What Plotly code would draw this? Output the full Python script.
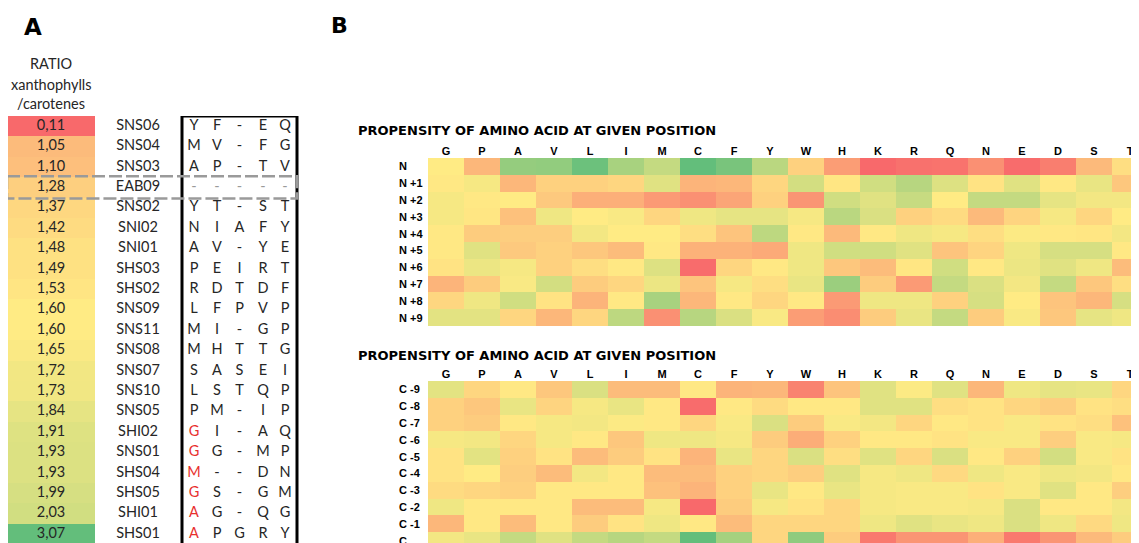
import plotly.graph_objects as go

# ---------------- data ----------------
ratio = [0.11, 1.05, 1.10, 1.28, 1.37, 1.42, 1.48, 1.49, 1.53, 1.60, 1.60,
         1.65, 1.72, 1.73, 1.84, 1.91, 1.93, 1.93, 1.99, 2.03, 3.07]
strains = ["SNS06", "SNS04", "SNS03", "EAB09", "SNS02", "SNI02", "SNI01", "SHS03",
           "SHS02", "SNS09", "SNS11", "SNS08", "SNS07", "SNS10", "SNS05", "SHI02",
           "SNS01", "SHS04", "SHS05", "SHI01", "SHS01"]
seqs = ["YF-EQ", "MV-FG", "AP-TV", "-----", "YT-ST", "NIAFY", "AV-YE", "PEIRT",
        "RDTDF", "LFPVP", "MI-GP", "MHTTG", "SASEI", "LSTQP", "PM-IP", "GI-AQ",
        "GG-MP", "M--DN", "GS-GM", "AG-QG", "APGRY"]
red_first = ["SHI02", "SNS01", "SHS04", "SHS05", "SHI01", "SHS01"]
highlight = "EAB09"

amino = ["G", "P", "A", "V", "L", "I", "M", "C", "F", "Y",
         "W", "H", "K", "R", "Q", "N", "E", "D", "S", "T"]
n_rows = ["N", "N +1", "N +2", "N +3", "N +4", "N +5", "N +6", "N +7", "N +8", "N +9"]
c_rows = ["C -9", "C -8", "C -7", "C -6", "C -5", "C -4", "C -3", "C -2", "C -1", "C"]

# propensity (0 = low/red, 0.5 = neutral/yellow, 1 = high/green)
n_vals = [
    [0.50, 0.30, 0.84, 0.85, 0.97, 0.78, 0.69, 1.00, 0.93, 0.72, 0.40, 0.20, 0.00, 0.03, 0.04, 0.15, 0.01, 0.08, 0.31, 0.45],
    [0.49, 0.53, 0.30, 0.40, 0.40, 0.42, 0.60, 0.29, 0.30, 0.42, 0.64, 0.48, 0.65, 0.73, 0.61, 0.47, 0.60, 0.49, 0.57, 0.36],
    [0.53, 0.49, 0.50, 0.37, 0.27, 0.27, 0.19, 0.15, 0.23, 0.40, 0.17, 0.65, 0.60, 0.68, 0.50, 0.69, 0.69, 0.58, 0.54, 0.54],
    [0.53, 0.48, 0.34, 0.55, 0.50, 0.52, 0.42, 0.55, 0.58, 0.58, 0.53, 0.72, 0.62, 0.40, 0.44, 0.31, 0.41, 0.53, 0.42, 0.50],
    [0.49, 0.38, 0.39, 0.39, 0.54, 0.50, 0.50, 0.45, 0.35, 0.71, 0.49, 0.31, 0.49, 0.55, 0.53, 0.45, 0.51, 0.49, 0.48, 0.54],
    [0.49, 0.60, 0.37, 0.40, 0.36, 0.32, 0.49, 0.28, 0.28, 0.25, 0.55, 0.65, 0.65, 0.60, 0.35, 0.41, 0.55, 0.63, 0.63, 0.49],
    [0.47, 0.56, 0.53, 0.40, 0.45, 0.49, 0.61, 0.01, 0.42, 0.49, 0.55, 0.36, 0.32, 0.48, 0.65, 0.49, 0.56, 0.60, 0.55, 0.32],
    [0.29, 0.38, 0.52, 0.64, 0.38, 0.42, 0.56, 0.35, 0.53, 0.45, 0.57, 0.82, 0.38, 0.19, 0.69, 0.62, 0.54, 0.69, 0.36, 0.45],
    [0.42, 0.55, 0.65, 0.47, 0.29, 0.49, 0.78, 0.30, 0.49, 0.42, 0.49, 0.19, 0.55, 0.55, 0.40, 0.63, 0.50, 0.35, 0.30, 0.63],
    [0.59, 0.59, 0.42, 0.30, 0.42, 0.71, 0.15, 0.73, 0.62, 0.52, 0.20, 0.14, 0.38, 0.57, 0.69, 0.38, 0.52, 0.36, 0.58, 0.55],
]
c_vals = [
    [0.59, 0.42, 0.49, 0.36, 0.62, 0.32, 0.32, 0.49, 0.29, 0.30, 0.10, 0.35, 0.60, 0.51, 0.60, 0.30, 0.55, 0.58, 0.57, 0.42],
    [0.40, 0.36, 0.57, 0.41, 0.53, 0.57, 0.49, 0.01, 0.49, 0.44, 0.49, 0.49, 0.60, 0.60, 0.45, 0.47, 0.42, 0.39, 0.47, 0.45],
    [0.40, 0.38, 0.49, 0.53, 0.54, 0.51, 0.49, 0.42, 0.52, 0.62, 0.38, 0.52, 0.54, 0.42, 0.49, 0.47, 0.52, 0.47, 0.45, 0.34],
    [0.53, 0.54, 0.42, 0.53, 0.49, 0.36, 0.55, 0.55, 0.53, 0.38, 0.26, 0.40, 0.49, 0.49, 0.47, 0.52, 0.52, 0.39, 0.52, 0.53],
    [0.47, 0.59, 0.40, 0.47, 0.32, 0.38, 0.47, 0.29, 0.57, 0.42, 0.62, 0.45, 0.60, 0.42, 0.62, 0.49, 0.40, 0.64, 0.52, 0.47],
    [0.47, 0.50, 0.39, 0.32, 0.54, 0.49, 0.32, 0.32, 0.40, 0.42, 0.39, 0.60, 0.53, 0.55, 0.43, 0.55, 0.52, 0.55, 0.54, 0.49],
    [0.44, 0.42, 0.40, 0.49, 0.49, 0.49, 0.34, 0.29, 0.40, 0.57, 0.49, 0.57, 0.53, 0.52, 0.52, 0.47, 0.52, 0.60, 0.49, 0.39],
    [0.55, 0.49, 0.49, 0.49, 0.32, 0.32, 0.53, 0.00, 0.38, 0.53, 0.47, 0.42, 0.53, 0.52, 0.52, 0.53, 0.62, 0.49, 0.49, 0.54],
    [0.30, 0.49, 0.32, 0.49, 0.38, 0.47, 0.55, 0.49, 0.32, 0.42, 0.42, 0.42, 0.55, 0.60, 0.57, 0.55, 0.62, 0.55, 0.43, 0.55],
    [0.54, 0.57, 0.69, 0.60, 0.69, 0.73, 0.69, 1.00, 0.79, 0.42, 0.86, 0.38, 0.06, 0.17, 0.17, 0.27, 0.06, 0.17, 0.31, 0.38],
]

title_text = "PROPENSITY OF AMINO ACID AT GIVEN POSITION"
ratio_header = ["RATIO", "xanthophylls", "/carotenes"]

# ---------------- styling / layout constants ----------------
RED, YEL, GRN = "#F8696B", "#FFEB84", "#63BE7B"
heat_scale = [[0, RED], [0.5, YEL], [1, GRN]]
srt = sorted(ratio)
mid = (srt[len(srt) // 2] - min(ratio)) / (max(ratio) - min(ratio))
ratio_scale = [[0, RED], [mid, YEL], [1, GRN]]

HEAVY = "DejaVu Sans"
LBL = "Liberation Sans"
TXT = "Lato"
TXT_COL = "#262626"

# page places the figure 8px in from the top-left corner (body margin)
OFF = 8
SW, SH = 1139, 543          # screen size
W, H = SW - OFF, SH - OFF   # figure size

def px(x):  # screen x -> paper
    return (x - OFF) / W

def py(y):  # screen y (from top) -> paper
    return 1 - (y - OFF) / H

cell_w, cell_h = 36.0, 16.8
hx0 = 428
top_y0, bot_y0 = 158, 381
row_pitch_A = 20.4
table_top = 116

fig = go.Figure()

fig.add_trace(go.Heatmap(z=n_vals, x=amino, y=n_rows, colorscale=heat_scale,
                         zmin=0, zmax=1, showscale=False, xaxis="x", yaxis="y"))
fig.add_trace(go.Heatmap(z=c_vals, x=amino, y=c_rows, colorscale=heat_scale,
                         zmin=0, zmax=1, showscale=False, xaxis="x2", yaxis="y2"))

# panel A
col_ratio = (7, 95)
x_name = 138
x_seq = [194, 217, 239.5, 263, 285]
nA = len(ratio)
fig.add_trace(go.Heatmap(z=[[r] for r in ratio], x=list(col_ratio),
                         y=[i - 0.5 for i in range(nA + 1)],
                         colorscale=ratio_scale, zmin=min(ratio), zmax=max(ratio),
                         showscale=False, xaxis="x3", yaxis="y3"))
fig.add_trace(go.Scatter(x=[(col_ratio[0] + col_ratio[1]) / 2] * nA, y=list(range(nA)),
                         text=[f"{r:.2f}".replace(".", ",") for r in ratio],
                         mode="text", textfont=dict(family=TXT, size=14.5, color=TXT_COL),
                         xaxis="x3", yaxis="y3", showlegend=False, cliponaxis=False))
fig.add_trace(go.Scatter(x=[x_name] * nA, y=list(range(nA)), text=strains,
                         mode="text", textfont=dict(family=TXT, size=14.5, color=TXT_COL),
                         xaxis="x3", yaxis="y3", showlegend=False, cliponaxis=False))
sx, sy, st, sc = [], [], [], []
for i, (name, s) in enumerate(zip(strains, seqs)):
    for j, ch in enumerate(s):
        sx.append(x_seq[j]); sy.append(i); st.append(ch)
        if name == highlight:
            sc.append("#9a9a9a")
        elif j == 0 and name in red_first:
            sc.append("#E8302E")
        else:
            sc.append(TXT_COL)
fig.add_trace(go.Scatter(x=sx, y=sy, text=st, mode="text",
                         textfont=dict(family=TXT, size=14.5, color=sc),
                         xaxis="x3", yaxis="y3", showlegend=False, cliponaxis=False))

hi = strains.index(highlight)
shapes = [
    dict(type="rect", xref="x3", yref="y3", x0=182, x1=297, y0=-0.5, y1=nA - 0.3,
         line=dict(color="black", width=3)),
    dict(type="rect", xref="x3", yref="y3", x0=7, x1=297, y0=hi - 0.55, y1=hi + 0.55,
         line=dict(color="#9a9a9a", width=2.5, dash="13px,4px")),
]

annotations = [
    dict(text="<b>A</b>", x=px(22), y=py(27), xref="paper", yref="paper", xanchor="left",
         yanchor="middle", showarrow=False, font=dict(family=HEAVY, size=23, color="black")),
    dict(text="<b>B</b>", x=px(329), y=py(25), xref="paper", yref="paper", xanchor="left",
         yanchor="middle", showarrow=False, font=dict(family=HEAVY, size=22, color="black")),
]
for ty in (131, 355):
    annotations.append(dict(text=title_text, x=px(356), y=py(ty), xref="paper", yref="paper",
                            xanchor="left", yanchor="middle", showarrow=False,
                            font=dict(family=HEAVY, size=13, color="black", weight="bold")))
for t, yy in zip(ratio_header, [63, 84, 104]):
    annotations.append(dict(text=t, x=px(51), y=py(yy), xref="paper", yref="paper",
                            xanchor="center", yanchor="middle", showarrow=False,
                            font=dict(family=TXT, size=14.5, color=TXT_COL)))
# row labels (left aligned, as in the source)
lblf = dict(family=LBL, size=11, color="black", weight="bold")
for yref, rows in (("y", n_rows), ("y2", c_rows)):
    for i, r in enumerate(rows):
        annotations.append(dict(text=r, x=px(397), y=i, xref="paper", yref=yref,
                                xanchor="left", yanchor="middle", showarrow=False, font=lblf))

x_range = [-0.5, -0.5 + (SW - hx0) / cell_w]
xdom = [px(hx0), 1]
common_x = dict(range=x_range, domain=xdom, side="top", showgrid=False, zeroline=False,
                ticks="", tickfont=lblf, showline=False, fixedrange=True)
common_y = dict(showgrid=False, zeroline=False, ticks="", showticklabels=False,
                showline=False, fixedrange=True)

top_bottom_px = top_y0 + len(n_rows) * cell_h
bot_vis_rows = (SH - bot_y0) / cell_h

fig.update_layout(
    width=W, height=H, margin=dict(l=0, r=0, t=0, b=0),
    paper_bgcolor="white", plot_bgcolor="white",
    showlegend=False,
    xaxis=dict(anchor="y", **common_x),
    yaxis=dict(anchor="x", domain=[py(top_bottom_px), py(top_y0)],
               range=[len(n_rows) - 0.5, -0.5], **common_y),
    xaxis2=dict(anchor="y2", **common_x),
    yaxis2=dict(anchor="x2", domain=[0, py(bot_y0)],
                range=[-0.5 + bot_vis_rows, -0.5], **common_y),
    xaxis3=dict(domain=[0, px(330)], range=[OFF, 330], visible=False, fixedrange=True),
    yaxis3=dict(domain=[0, py(table_top)], anchor="x3",
                range=[-0.5 + (SH - table_top) / row_pitch_A, -0.5], visible=False,
                fixedrange=True),
    shapes=shapes,
    annotations=annotations,
)

fig.write_html("out.html")
